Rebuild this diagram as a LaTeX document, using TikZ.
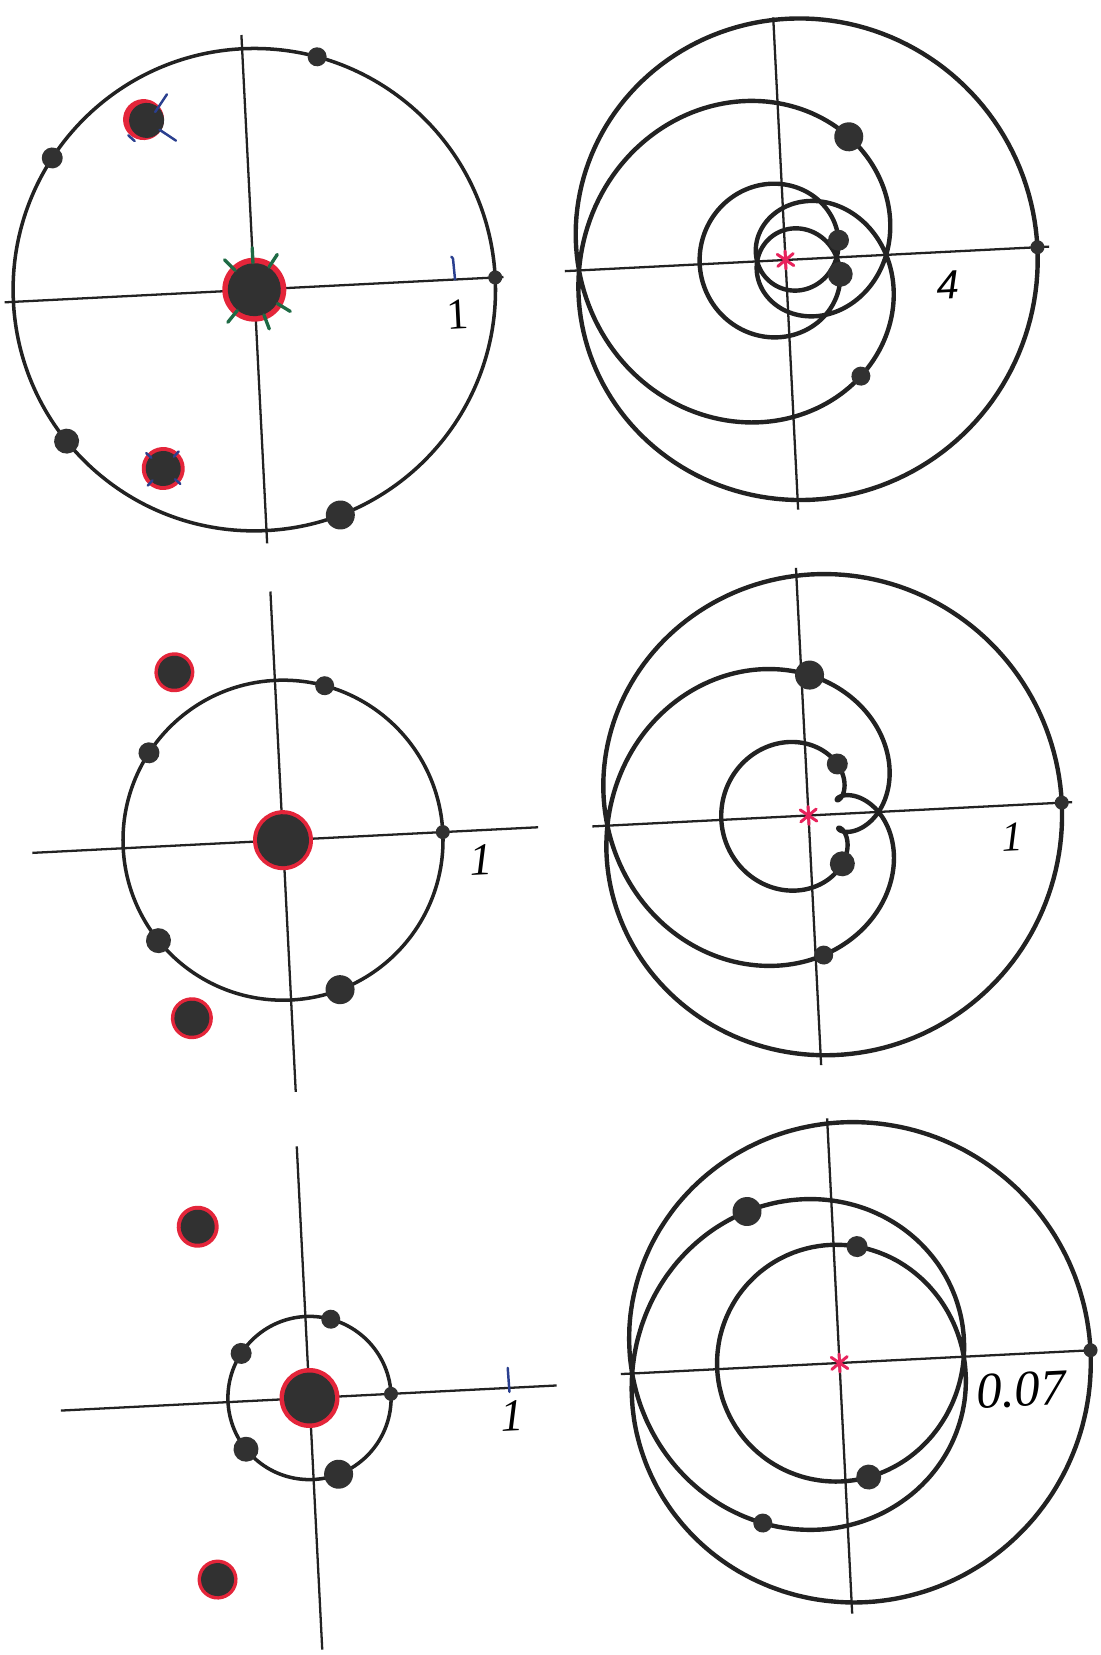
\documentclass[tikz,border=0pt]{standalone}
\usepackage{fontspec}
\setmainfont{Liberation Serif}
\newfontfamily\labsans{Liberation Sans}
\definecolor{ink}{HTML}{222222}
\definecolor{dotc}{HTML}{313131}
\definecolor{redmark}{HTML}{E4253A}
\definecolor{pinkmark}{HTML}{E8235C}
\definecolor{greenmark}{HTML}{1E6B45}
\definecolor{bluemark}{HTML}{2A3F8F}
\tikzset{
  axisline/.style={ink, line width=1.3pt},
  orbit/.style={ink, line width=2.0pt},
  imagecurve/.style={ink, line width=2.5pt, line join=round},
  dotfill/.style={fill=dotc},
  redring/.style={fill=redmark},
  greentick/.style={greenmark, line width=1.9pt, line cap=round},
  bluetick/.style={bluemark, line width=1.4pt, line cap=round},
  astk/.style={pinkmark, line width=1.7pt, line cap=round},
  lab/.style={inner sep=0pt, rotate=2.9},
}
% image of |z|=R under p(z)=z^5+z^4+z^3, scale s px per unit
\newcommand\imgpanel[2]{%
  \draw[imagecurve] plot[domain=0:360, samples=721, variable=\t]
    ({#2*((#1)^5*cos(5*\t)+(#1)^4*cos(4*\t)+(#1)^3*cos(3*\t))},
     {#2*((#1)^5*sin(5*\t)+(#1)^4*sin(4*\t)+(#1)^3*sin(3*\t))}) -- cycle;
  \foreach \k/\rad in {0/7,1/9.5,2/10.5,3/12.5,4/14.5}{
    \pgfmathsetmacro\dang{72*\k}
    \pgfmathsetmacro\dpx{#2*((#1)^5*cos(5*\dang)+(#1)^4*cos(4*\dang)+(#1)^3*cos(3*\dang))}
    \pgfmathsetmacro\dpy{#2*((#1)^5*sin(5*\dang)+(#1)^4*sin(4*\dang)+(#1)^3*sin(3*\dang))}
    \fill[dotfill] (\dpx,\dpy) circle (\rad);
  }
  \draw[astk] (0,-9) -- (0,9);
  \draw[astk] (-8,-6) -- (8,6);
  \draw[astk] (-8,6) -- (8,-6);
}
% circle |z|=R with the points R e^{2 pi i k/5}
\newcommand\rootpanel[2]{%
  \pgfmathsetmacro\crad{#1*#2}
  \draw[orbit] (0,0) circle (\crad);
  \foreach \k/\rad in {0/7,1/9.5,2/10.5,3/12.5,4/14.5}{
    \fill[dotfill] ({72*\k}:\crad) circle (\rad);
  }
}
\begin{document}
\begin{tikzpicture}[x=0.02cm,y=0.02cm]
\useasboundingbox (0,0) rectangle (1101,1655);
\fill[white] (0,0) rectangle (1101,1655);

% ---------- panel 1 (top left) ----------
\begin{scope}[shift={(254.3,1365.3)}, rotate=2.9]
  \draw[axisline] (-250,0) -- (249.5,0);
  \draw[axisline] (0,-254) -- (0,255);
  \rootpanel{1.2}{201}
  \draw[bluetick] (201,0) -- (200,21) -- (198.5,23);
  \node[lab, font=\fontsize{25}{28}\selectfont] (l1) at (202,-35) {1};
  % central root
  \fill[redring] (0,0) circle (32);
  \fill[dotfill] (0,0) circle (26.5);
  \foreach \a in {132,90,54,-34,-132,-72}{
    \draw[greentick] (\a:27) -- (\a:42);
  }
  % upper left root
  \fill[redring] (-102,175.5) circle (20.5);
  \fill[dotfill] (-99,174.5) circle (17.5);
  \draw[bluetick] (-99+21.6,174.5+25) -- (-99+9,174.5+8);
  \draw[bluetick] (-99+12.5,174.5-10) -- (-99+28.3,174.5-21.7);
  \draw[bluetick] (-99-19,174.5-14) -- (-99-13,174.5-20);
  % lower left root
  \fill[redring] (-100,-174) circle (21.5);
  \fill[dotfill] (-100,-174) circle (17.5);
  \foreach \a in {135,45,-135,-45}{
    \draw[bluetick] (-100,-174) ++(\a:16) -- ++(\a:7);
  }
\end{scope}

% ---------- panel 2 (top right) ----------
\begin{scope}[shift={(785.5,1395)}, rotate=2.9]
  \draw[axisline] (-221,0) -- (264,0);
  \draw[axisline] (0,-250) -- (0,243);
  \imgpanel{1.2}{40.1}
  \node[lab, font=\fontsize{23}{26}\selectfont\labsans\itshape] (l2) at (161,-33) {4};
\end{scope}

% ---------- panel 3 (middle left) ----------
\begin{scope}[shift={(283,814.8)}, rotate=2.9]
  \draw[axisline] (-251,0) -- (255.5,0);
  \draw[axisline] (0,-252) -- (0,249);
  \rootpanel{0.8}{200}
  \node[lab, font=\fontsize{26}{29}\selectfont\itshape] (l3) at (197,-30) {1};
  \fill[redring] (0,0) circle (30);
  \fill[dotfill] (0,0) circle (26);
  \fill[redring] (-100,173.2) circle (20);
  \fill[dotfill] (-100,173.2) circle (16.5);
  \fill[redring] (-100,-173.2) circle (21);
  \fill[dotfill] (-100,-173.2) circle (17.5);
\end{scope}

% ---------- panel 4 (middle right) ----------
\begin{scope}[shift={(808.5,839.5)}, rotate=2.9]
  \draw[axisline] (-216.5,0) -- (264,0);
  \draw[axisline] (0,-250) -- (0,248);
  \imgpanel{0.8}{203}
  \node[lab, font=\fontsize{24}{27}\selectfont\itshape] (l4) at (202,-32) {1};
\end{scope}

% ---------- panel 5 (bottom left) ----------
\begin{scope}[shift={(309.5,257)}, rotate=2.9]
  \draw[axisline] (-249,0) -- (247.5,0);
  \draw[axisline] (0,-252) -- (0,252);
  \rootpanel{0.4}{204}
  \draw[bluetick] (200,-4) -- (199.5,20);
  \node[lab, font=\fontsize{26}{29}\selectfont\itshape] (l5) at (201,-28) {1};
  \fill[redring] (0,0) circle (30);
  \fill[dotfill] (0,0) circle (25.5);
  \fill[redring] (-103,176.7) circle (21);
  \fill[dotfill] (-103,176.7) circle (17);
  \fill[redring] (-101,-176.7) circle (20);
  \fill[dotfill] (-101,-176.7) circle (16.5);
\end{scope}

% ---------- panel 6 (bottom right) ----------
\begin{scope}[shift={(839.5,292)}, rotate=2.9]
  \draw[axisline] (-219,0) -- (257,0);
  \draw[axisline] (0,-251) -- (0,245);
  \imgpanel{0.4}{2519}
  \node[lab, font=\fontsize{29}{32}\selectfont\itshape] (l6) at (180,-36) {0.07};
\end{scope}
\end{tikzpicture}
\end{document}
